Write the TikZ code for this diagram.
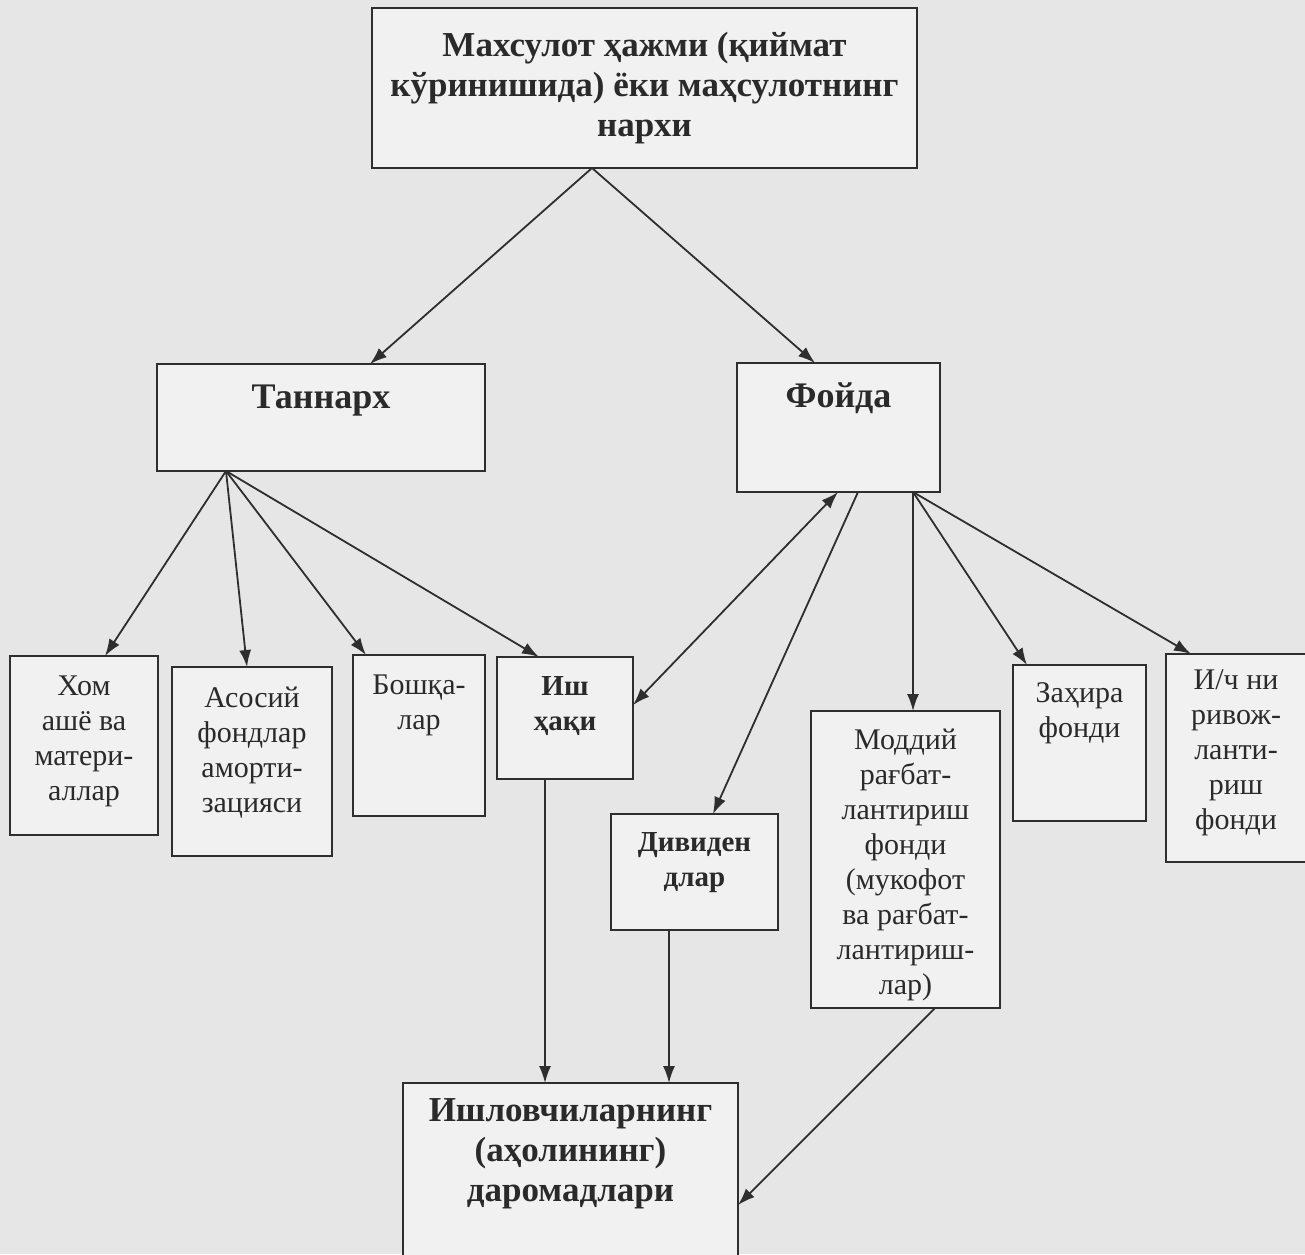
\documentclass[tikz,border=0pt]{standalone}
\usepackage{fontspec}
\setmainfont{Liberation Serif}
\usetikzlibrary{arrows.meta}
\definecolor{bgc}{HTML}{E6E6E6}
\definecolor{boxc}{HTML}{F1F1F1}
\definecolor{linec}{HTML}{2E2E2E}
\definecolor{txtc}{HTML}{2A2A2A}
\newcommand\fntbig{\fontsize{35}{40}\selectfont\bfseries}
\newcommand\fntmid{\fontsize{36}{40}\selectfont\bfseries}
\newcommand\fntbold{\fontsize{29}{35}\selectfont\bfseries}
\newcommand\fntreg{\fontsize{30}{35}\selectfont}
\tikzset{
  box/.style={draw=linec, line width=2.2pt, fill=boxc, rectangle, inner sep=0pt, outer sep=0pt, anchor=north west},
  txt/.style={align=center, inner sep=0pt, anchor=north, text=txtc, font=\fntreg},
  btxt/.style={txt, font=\fntbold},
  arr/.style={draw=linec, line width=1.8pt, -{Latex[length=17pt,width=12pt]}},
  darr/.style={draw=linec, line width=1.8pt, {Latex[length=17pt,width=12pt]}-{Latex[length=17pt,width=12pt]}},
  ln/.style={draw=linec, line width=1.8pt}
}
\begin{document}
\begin{tikzpicture}[x=1pt,y=-1pt]
\useasboundingbox (0,0) rectangle (1305,1254);
\fill[bgc] (0,0) rectangle (1305,1254);
% boxes
\node[box, minimum width=545pt, minimum height=160pt] (top) at (372,8) {};
\node[box, minimum width=328pt, minimum height=107pt] (tan) at (157,364) {};
\node[box, minimum width=203pt, minimum height=129pt] (foy) at (737,363) {};
\node[box, minimum width=148pt, minimum height=179pt] (hom) at (10,656) {};
\node[box, minimum width=160pt, minimum height=189pt] (asos) at (172,667) {};
\node[box, minimum width=132pt, minimum height=161pt] (bosh) at (353,655) {};
\node[box, minimum width=136pt, minimum height=122pt] (ish) at (497,657) {};
\node[box, minimum width=167pt, minimum height=116pt] (div) at (611,814) {};
\node[box, minimum width=189pt, minimum height=297pt] (mod) at (811,711) {};
\node[box, minimum width=133pt, minimum height=156pt] (zax) at (1013,665) {};
\node[box, minimum width=160pt, minimum height=208pt] (ich) at (1166,654) {};
\node[box, minimum width=335pt, minimum height=200pt] (dar) at (403,1083) {};
% texts
\node[txt, font=\fntbig] (ttop) at ([yshift=-24pt]top.north) {Махсулот ҳажми (қиймат\\кўринишида) ёки маҳсулотнинг\\нархи};
\node[txt, font=\fntmid] (ttan) at ([yshift=-21pt]tan.north) {Таннарх};
\node[txt, font=\fntmid] (tfoy) at ([yshift=-20pt]foy.north) {Фойда};
\node[txt] (thom) at ([yshift=-20pt]hom.north) {Хом\\ашё ва\\матери-\\аллар};
\node[txt] (tasos) at ([yshift=-20pt]asos.north) {Асосий\\фондлар\\аморти-\\зацияси};
\node[txt] (tbosh) at ([yshift=-20pt]bosh.north) {Бошқа-\\лар};
\node[btxt] (tish) at ([yshift=-19pt]ish.north) {Иш\\ҳақи};
\node[btxt] (tdiv) at ([yshift=-18pt]div.north) {Дивиден\\длар};
\node[txt] (tmod) at ([yshift=-18pt]mod.north) {Моддий\\рағбат-\\лантириш\\фонди\\(мукофот\\ва рағбат-\\лантириш-\\лар)};
\node[txt] (tzax) at ([yshift=-17pt]zax.north) {Заҳира\\фонди};
\node[txt] (tich) at ([xshift=70pt,yshift=-16pt]ich.north west) {И/ч ни\\ривож-\\ланти-\\риш\\фонди};
\node[txt, font=\fntbig] (tdar) at ([yshift=-15pt]dar.north) {Ишловчиларнинг\\(аҳолининг)\\даромадлари};
% connectors
\draw[arr] ([xshift=220pt]top.south west) -- ([xshift=213pt]tan.north west);
\draw[arr] ([xshift=220pt]top.south west) -- ([xshift=78pt]foy.north west);
\draw[arr] ([xshift=69pt]tan.south west) -- ([xshift=95pt]hom.north west);
\draw[arr] ([xshift=69pt]tan.south west) -- ([xshift=75pt]asos.north west);
\draw[arr] ([xshift=69pt]tan.south west) -- ([xshift=13pt]bosh.north west);
\draw[arr] ([xshift=69pt]tan.south west) -- ([xshift=42pt]ish.north west);
\draw[darr] ([xshift=101pt]foy.south west) -- ([yshift=-48pt]ish.north east);
\draw[arr] ([xshift=121pt]foy.south west) -- ([xshift=102pt]div.north west);
\draw[arr] ([xshift=176pt]foy.south west) -- ([xshift=102pt]mod.north west);
\draw[arr] ([xshift=176pt]foy.south west) -- ([xshift=14pt]zax.north west);
\draw[arr] ([xshift=176pt]foy.south west) -- ([xshift=25pt]ich.north west);
\draw[arr] ([xshift=48pt]ish.south west) -- ([xshift=142pt]dar.north west);
\draw[arr] ([xshift=58pt]div.south west) -- ([xshift=266pt]dar.north west);
\draw[arr] ([xshift=124pt]mod.south west) -- ([yshift=-122pt]dar.north east);
\end{tikzpicture}
\end{document}
